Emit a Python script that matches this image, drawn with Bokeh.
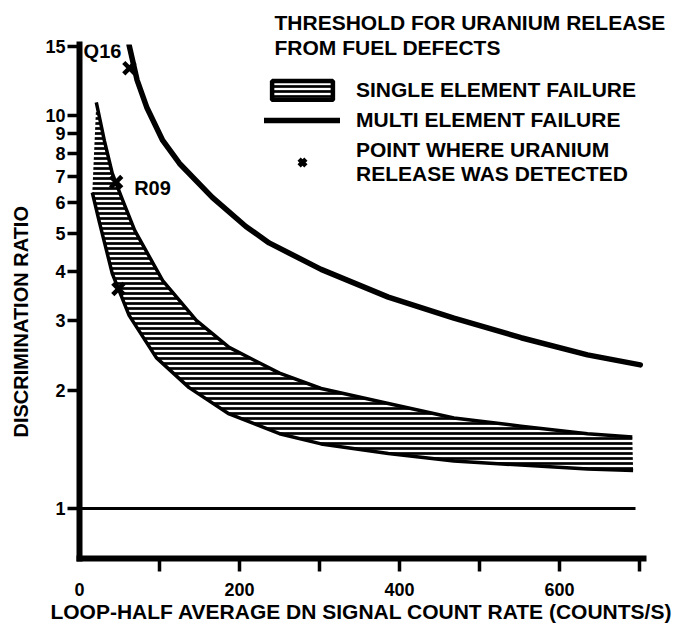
import math
from bokeh.plotting import figure
from bokeh.models import (Range1d, FixedTicker, PrintfTickFormatter, Legend,
                          LegendItem, Title)
from bokeh.core.properties import value
from bokeh.embed import file_html
from bokeh.resources import INLINE

# ---------------- data ----------------
# Multi element failure threshold (count rate, discrimination ratio)
multi_x = [62, 72, 84, 104, 125, 166, 208, 237, 302, 386, 468, 552, 635, 701]
multi_y = [15.1, 12.3, 10.5, 8.64, 7.55, 6.19, 5.22, 4.74, 4.06, 3.45, 3.05, 2.72, 2.46, 2.32]

# Single element failure band: upper and lower boundaries
single_upper_x = [21, 31, 41, 54, 69, 104, 146, 187, 250, 302, 386, 468, 552, 635, 691]
single_upper_y = [10.8, 8.64, 7.12, 6.08, 5.10, 3.80, 3.01, 2.57, 2.21, 2.02, 1.85, 1.70, 1.62, 1.55, 1.52]
single_lower_x = [16, 25, 41, 62, 96, 137, 187, 250, 302, 386, 468, 552, 635, 692]
single_lower_y = [6.37, 5.34, 3.96, 3.10, 2.42, 2.03, 1.74, 1.55, 1.46, 1.38, 1.32, 1.29, 1.26, 1.25]

# Ratio = 1 reference line
unity_x = [0, 695]
unity_y = [1, 1]

# Points where uranium release was detected
detected_x = [62.4, 45.8, 48.7]
detected_y = [13.2, 6.77, 3.62]
detected_labels = ["Q16", "R09", ""]

# Axes
x_label_ticks = [0, 200, 400, 600]
x_mark_ticks = [100, 200, 300, 400, 500, 600, 700]
y_ticks = [1, 2, 3, 4, 5, 6, 7, 8, 9, 10, 15]

title_lines = ["THRESHOLD FOR URANIUM RELEASE", "FROM FUEL DEFECTS"]
legend_labels = ["SINGLE ELEMENT FAILURE", "MULTI ELEMENT FAILURE",
                 "POINT WHERE URANIUM\nRELEASE WAS DETECTED"]
x_title = "LOOP-HALF AVERAGE DN SIGNAL COUNT RATE (COUNTS/S)"
y_title = "DISCRIMINATION RATIO"

# ---------------- figure ----------------
FONT = "Liberation Sans"

p = figure(width=676, height=627,
           x_range=Range1d(0, 705), y_range=Range1d(0.746, 15.16),
           y_axis_type="log", output_backend="svg", toolbar_location=None,
           min_border_left=78, min_border_right=33, min_border_top=44,
           min_border_bottom=69)
p.grid.visible = False
p.outline_line_color = None
p.background_fill_color = "white"
p.border_fill_color = "white"

# two-line heading as the plot title
p.title.text = "\n".join(title_lines)
p.title.align = "left"
p.title.offset = 195
p.title.standoff = -30
p.title.vertical_align = "bottom"
p.title.text_font = FONT
p.title.text_font_style = "bold"
p.title.text_font_size = "21px"
p.title.text_line_height = 1.1
p.title.text_color = "black"

band_x = single_upper_x + single_lower_x[::-1]
band_y = single_upper_y + single_lower_y[::-1]

hatch_kw = dict(hatch_pattern="horizontal_line", hatch_color="black",
                hatch_scale=5, hatch_weight=2.7)

p.patch(band_x, band_y, fill_color="white", line_color=None, **hatch_kw)
band_legend = p.patch(band_x, band_y, fill_color="white", line_color="black",
                      line_width=4.5, visible=False, **hatch_kw)

p.line(single_upper_x, single_upper_y, line_color="black", line_width=3.5,
       line_join="round")
p.line(single_lower_x, single_lower_y, line_color="black", line_width=3.5,
       line_join="round")

multi_r = p.line(multi_x, multi_y, line_color="black", line_width=5.5, line_cap="round",
                 line_join="round")
p.line(unity_x, unity_y, line_color="black", line_width=3)

pts = p.scatter(detected_x, detected_y, marker="x", size=16, line_color="black",
                line_width=4.5)

p.text(detected_x[:1], detected_y[:1], text=detected_labels[:1], text_align="right",
       text_baseline="alphabetic", x_offset=-8, y_offset=-17,
       text_font=value(FONT), text_font_style="bold", text_font_size="20px")
p.text(detected_x[1:2], detected_y[1:2], text=detected_labels[1:2], text_align="left",
       text_baseline="alphabetic", x_offset=18, y_offset=6,
       text_font=value(FONT), text_font_style="bold", text_font_size="20px")

# ---------------- axes ----------------
xa = p.xaxis[0]
xa.ticker = FixedTicker(ticks=x_label_ticks, minor_ticks=x_mark_ticks)
xa.formatter = PrintfTickFormatter(format="%d")
xa.major_tick_out = 0
xa.major_tick_in = 0
xa.major_tick_line_color = None
xa.minor_tick_out = 13
xa.minor_tick_in = 0
xa.minor_tick_line_width = 3.5
xa.minor_tick_line_color = "black"
xa.major_label_standoff = 11
xa.axis_line_width = 6
xa.axis_line_cap = "square"
xa.major_label_text_font = FONT
xa.major_label_text_font_style = "bold"
xa.major_label_text_font_size = "18px"
xa.major_label_text_color = "black"

ya = p.yaxis[0]
ya.ticker = FixedTicker(ticks=y_ticks, minor_ticks=[])
ya.formatter = PrintfTickFormatter(format="%d")
ya.major_tick_out = 12
ya.major_tick_in = 0
ya.major_tick_line_width = 3.5
ya.major_tick_line_color = "black"
ya.minor_tick_out = 0
ya.minor_tick_in = 0
ya.major_label_standoff = 2
ya.axis_line_width = 6
ya.axis_line_cap = "square"
ya.major_label_text_font = FONT
ya.major_label_text_font_style = "bold"
ya.major_label_text_font_size = "18px"
ya.major_label_text_color = "black"

# axis titles as side titles (precise placement along each axis)
p.add_layout(Title(text=y_title, align="left", offset=121, standoff=18,
                   vertical_align="top",
                   text_font=FONT, text_font_style="bold", text_font_size="20px",
                   text_color="black"), "left")
p.add_layout(Title(text=x_title, align="center", standoff=-1, vertical_align="bottom",
                   text_font=FONT, text_font_style="bold", text_font_size="21px",
                   text_color="black"), "below")

legend = Legend(items=[LegendItem(label=legend_labels[0], renderers=[band_legend]),
                       LegendItem(label=legend_labels[1], renderers=[multi_r]),
                       LegendItem(label=legend_labels[2], renderers=[pts])],
                location=(185, 372), glyph_width=76, glyph_height=24,
                label_standoff=16, spacing=6, padding=0, margin=0,
                border_line_color=None, background_fill_alpha=0,
                label_text_font=FONT, label_text_font_style="bold",
                label_text_font_size="21px", label_text_line_height=1.2,
                label_text_color="black")
p.add_layout(legend)

open("out.html", "w").write(file_html(p, INLINE))
